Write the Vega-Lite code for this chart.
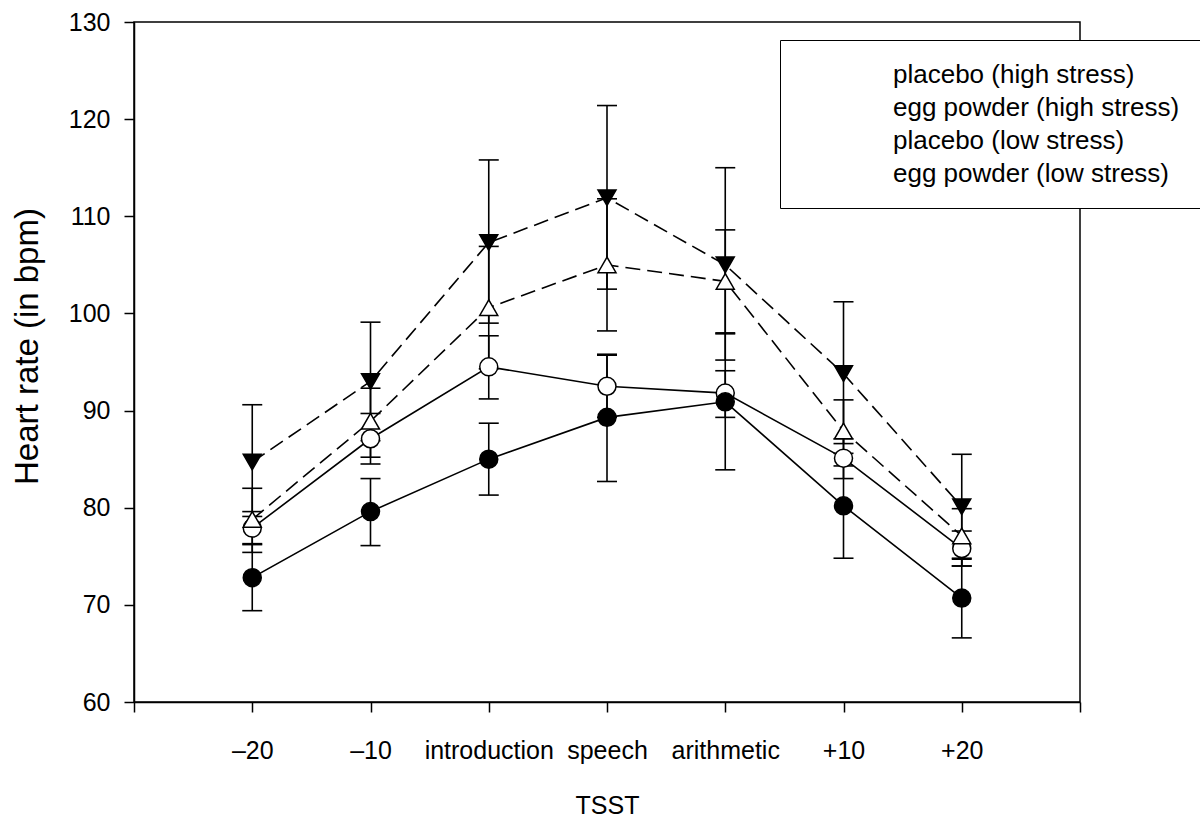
{
  "$schema": "https://vega.github.io/schema/vega-lite/v6.json",
  "width": 946,
  "height": 680,
  "autosize": {"type": "none"},
  "padding": {"left": 134, "top": 22, "right": 120, "bottom": 115},
  "background": "white",
  "config": {
    "font": "Liberation Sans",
    "view": {"stroke": "black", "strokeWidth": 1.5},
    "axis": {
      "grid": false,
      "domainColor": "black",
      "domainWidth": 1.5,
      "tickColor": "black",
      "tickWidth": 1.5,
      "tickSize": 10,
      "labelColor": "black",
      "labelFont": "Liberation Sans",
      "labelFontSize": 25,
      "titleFont": "Liberation Sans",
      "titleColor": "black",
      "titleFontWeight": "normal"
    }
  },
  "data": {
    "values": [
      {"group": "placebo (high stress)", "treatment": "placebo", "stress": "high", "pos": 1, "mean": 72.8, "lo": 69.4, "hi": 76.3},
      {"group": "placebo (high stress)", "treatment": "placebo", "stress": "high", "pos": 2, "mean": 79.6, "lo": 76.1, "hi": 83.0},
      {"group": "placebo (high stress)", "treatment": "placebo", "stress": "high", "pos": 3, "mean": 85.0, "lo": 81.3, "hi": 88.7},
      {"group": "placebo (high stress)", "treatment": "placebo", "stress": "high", "pos": 4, "mean": 89.3, "lo": 82.7, "hi": 95.8},
      {"group": "placebo (high stress)", "treatment": "placebo", "stress": "high", "pos": 5, "mean": 90.9, "lo": 83.9, "hi": 97.9},
      {"group": "placebo (high stress)", "treatment": "placebo", "stress": "high", "pos": 6, "mean": 80.2, "lo": 74.8, "hi": 85.6},
      {"group": "placebo (high stress)", "treatment": "placebo", "stress": "high", "pos": 7, "mean": 70.7, "lo": 66.6, "hi": 74.8},
      {"group": "egg powder (high stress)", "treatment": "egg", "stress": "high", "pos": 1, "mean": 77.9, "lo": 76.2, "hi": 79.6},
      {"group": "egg powder (high stress)", "treatment": "egg", "stress": "high", "pos": 2, "mean": 87.1, "lo": 84.5, "hi": 89.7},
      {"group": "egg powder (high stress)", "treatment": "egg", "stress": "high", "pos": 3, "mean": 94.5, "lo": 91.2, "hi": 97.7},
      {"group": "egg powder (high stress)", "treatment": "egg", "stress": "high", "pos": 4, "mean": 92.5, "lo": 89.3, "hi": 95.7},
      {"group": "egg powder (high stress)", "treatment": "egg", "stress": "high", "pos": 5, "mean": 91.8, "lo": 89.3, "hi": 94.1},
      {"group": "egg powder (high stress)", "treatment": "egg", "stress": "high", "pos": 6, "mean": 85.1, "lo": 83.0, "hi": 87.1},
      {"group": "egg powder (high stress)", "treatment": "egg", "stress": "high", "pos": 7, "mean": 75.8, "lo": 74.0, "hi": 77.6},
      {"group": "placebo (low stress)", "treatment": "placebo", "stress": "low", "pos": 1, "mean": 84.7, "lo": 79.1, "hi": 90.6},
      {"group": "placebo (low stress)", "treatment": "placebo", "stress": "low", "pos": 2, "mean": 93.0, "lo": 86.9, "hi": 99.1},
      {"group": "placebo (low stress)", "treatment": "placebo", "stress": "low", "pos": 3, "mean": 107.3, "lo": 99.0, "hi": 115.8},
      {"group": "placebo (low stress)", "treatment": "placebo", "stress": "low", "pos": 4, "mean": 111.9, "lo": 102.5, "hi": 121.4},
      {"group": "placebo (low stress)", "treatment": "placebo", "stress": "low", "pos": 5, "mean": 105.0, "lo": 95.2, "hi": 115.0},
      {"group": "placebo (low stress)", "treatment": "placebo", "stress": "low", "pos": 6, "mean": 93.8, "lo": 86.6, "hi": 101.2},
      {"group": "placebo (low stress)", "treatment": "placebo", "stress": "low", "pos": 7, "mean": 80.1, "lo": 74.7, "hi": 85.5},
      {"group": "egg powder (low stress)", "treatment": "egg", "stress": "low", "pos": 1, "mean": 78.8, "lo": 75.4, "hi": 82.0},
      {"group": "egg powder (low stress)", "treatment": "egg", "stress": "low", "pos": 2, "mean": 88.9, "lo": 85.2, "hi": 92.3},
      {"group": "egg powder (low stress)", "treatment": "egg", "stress": "low", "pos": 3, "mean": 100.6, "lo": 94.3, "hi": 106.9},
      {"group": "egg powder (low stress)", "treatment": "egg", "stress": "low", "pos": 4, "mean": 105.0, "lo": 98.2, "hi": 111.8},
      {"group": "egg powder (low stress)", "treatment": "egg", "stress": "low", "pos": 5, "mean": 103.3, "lo": 98.0, "hi": 108.6},
      {"group": "egg powder (low stress)", "treatment": "egg", "stress": "low", "pos": 6, "mean": 87.9, "lo": 84.3, "hi": 91.1},
      {"group": "egg powder (low stress)", "treatment": "egg", "stress": "low", "pos": 7, "mean": 77.1, "lo": 74.0, "hi": 79.9}
    ]
  },
  "encoding": {
    "x": {
      "field": "pos",
      "type": "quantitative",
      "title": "TSST",
      "scale": {"domain": [0, 8], "nice": false, "zero": false},
      "axis": {
        "values": [0, 1, 2, 3, 4, 5, 6, 7, 8],
        "labelExpr": "['', '–20', '–10', 'introduction', 'speech', 'arithmetic', '+10', '+20', ''][datum.value]",
        "labelOverlap": false,
        "labelFlush": false,
        "labelPadding": 26,
        "titleFontSize": 25,
        "titleBaseline": "alphabetic",
        "titleY": 111,
        "titleX": 473,
        "titleAlign": "center"
      }
    }
  },
  "layer": [
    {
      "mark": {"type": "rule", "color": "black", "strokeWidth": 1.6},
      "encoding": {
        "y": {
          "field": "lo",
          "type": "quantitative",
          "title": "Heart rate (in bpm)",
          "scale": {"domain": [60, 130], "nice": false, "zero": false},
          "axis": {
            "values": [60, 70, 80, 90, 100, 110, 120, 130],
            "labelPadding": 14,
            "titleFontSize": 33,
            "titleAngle": -90,
            "titleBaseline": "alphabetic",
            "titleAlign": "center",
            "titleX": -97,
            "titleY": 324
          }
        },
        "y2": {"field": "hi"}
      }
    },
    {
      "mark": {"type": "tick", "orient": "horizontal", "color": "black", "size": 20, "thickness": 1.6, "opacity": 1},
      "encoding": {
        "y": {"field": "lo", "type": "quantitative", "title": "Heart rate (in bpm)", "scale": {"domain": [60, 130], "nice": false, "zero": false}}
      }
    },
    {
      "mark": {"type": "tick", "orient": "horizontal", "color": "black", "size": 20, "thickness": 1.6, "opacity": 1},
      "encoding": {
        "y": {"field": "hi", "type": "quantitative", "title": "Heart rate (in bpm)", "scale": {"domain": [60, 130], "nice": false, "zero": false}}
      }
    },
    {
      "transform": [{"filter": "datum.stress === 'high'"}],
      "mark": {"type": "line", "color": "black", "strokeWidth": 1.6},
      "encoding": {
        "y": {"field": "mean", "type": "quantitative", "title": "Heart rate (in bpm)", "scale": {"domain": [60, 130], "nice": false, "zero": false}},
        "detail": {"field": "group", "type": "nominal"}
      }
    },
    {
      "transform": [{"filter": "datum.stress === 'low'"}],
      "mark": {"type": "line", "color": "black", "strokeWidth": 1.6, "strokeDash": [15, 7]},
      "encoding": {
        "y": {"field": "mean", "type": "quantitative", "title": "Heart rate (in bpm)", "scale": {"domain": [60, 130], "nice": false, "zero": false}},
        "detail": {"field": "group", "type": "nominal"}
      }
    },
    {
      "transform": [{"filter": "datum.treatment === 'egg'"}],
      "mark": {"type": "point", "opacity": 1, "stroke": "black", "fill": "white", "filled": false, "strokeWidth": 1.5, "size": 324},
      "encoding": {
        "y": {"field": "mean", "type": "quantitative", "title": "Heart rate (in bpm)", "scale": {"domain": [60, 130], "nice": false, "zero": false}},
        "shape": {
          "field": "group",
          "type": "nominal",
          "scale": {
            "domain": ["placebo (high stress)", "egg powder (high stress)", "placebo (low stress)", "egg powder (low stress)"],
            "range": ["circle", "circle", "triangle-down", "triangle-up"]
          },
          "legend": {
            "title": null,
            "orient": "none",
            "legendX": 646,
            "legendY": 18,
            "padding": 21.5,
            "rowPadding": 7,
            "symbolOffset": 21.5,
            "labelOffset": 44,
            "labelFont": "Liberation Sans",
            "labelFontSize": 26,
            "labelColor": "black",
            "labelLimit": 500,
            "strokeColor": "black",
            "fillColor": "white",
            "symbolSize": 324,
            "symbolStrokeWidth": 1.5,
            "symbolStrokeColor": "black"
          }
        }
      }
    },
    {
      "transform": [{"filter": "datum.treatment === 'placebo'"}],
      "mark": {"type": "point", "opacity": 1, "stroke": "black", "fill": "black", "filled": true, "strokeWidth": 1.5, "size": 324},
      "encoding": {
        "y": {"field": "mean", "type": "quantitative", "title": "Heart rate (in bpm)", "scale": {"domain": [60, 130], "nice": false, "zero": false}},
        "shape": {
          "field": "group",
          "type": "nominal",
          "scale": {
            "domain": ["placebo (high stress)", "egg powder (high stress)", "placebo (low stress)", "egg powder (low stress)"],
            "range": ["circle", "circle", "triangle-down", "triangle-up"]
          },
          "legend": {
            "title": null,
            "orient": "none",
            "legendX": 646,
            "legendY": 18,
            "padding": 21.5,
            "rowPadding": 7,
            "symbolOffset": 21.5,
            "labelOffset": 44,
            "labelFont": "Liberation Sans",
            "labelFontSize": 26,
            "labelColor": "black",
            "labelLimit": 500,
            "strokeColor": "black",
            "fillColor": "white",
            "symbolSize": 324,
            "symbolStrokeWidth": 1.5,
            "symbolStrokeColor": "black"
          }
        }
      }
    }
  ]
}
